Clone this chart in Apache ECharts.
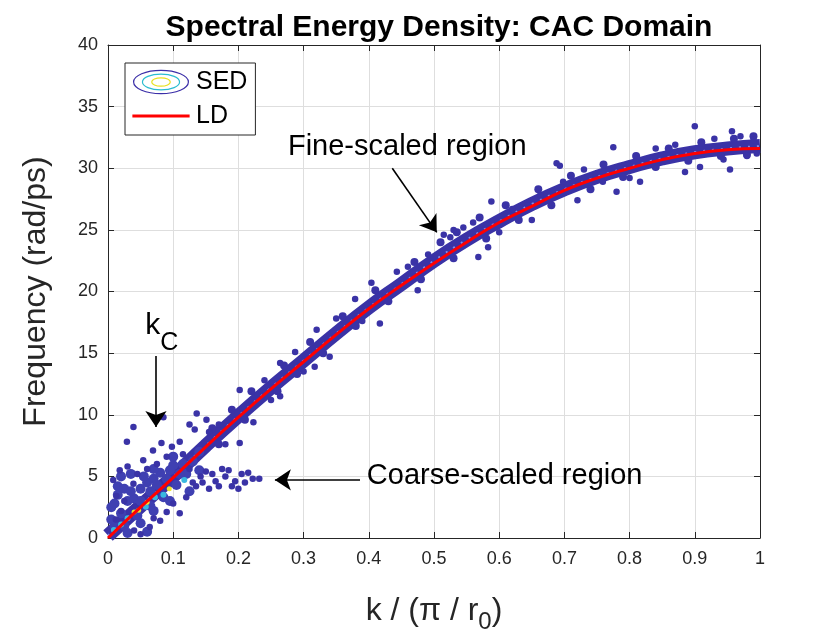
<!DOCTYPE html>
<html>
<head>
<meta charset="utf-8">
<script src="https://cdn.jsdelivr.net/npm/echarts@6/dist/echarts.min.js"></script>
<style>
html,body{margin:0;padding:0;background:#fff;}
#c{width:840px;height:630px;}
</style>
</head>
<body>
<div id="c"></div>
<script>
// ---- data ----
const xTicks = [0,0.1,0.2,0.3,0.4,0.5,0.6,0.7,0.8,0.9,1];
const yTicks = [0,5,10,15,20,25,30,35,40];

// LD (lattice dynamics) dispersion curve
const ldK = [0,0.05,0.1,0.15,0.2,0.25,0.3,0.35,0.4,0.45,0.5,0.55,0.6,0.65,0.7,0.75,0.8,0.85,0.9,0.95,1.0];
const ldW = [0,2.5,4.9,7.4,9.8,12.1,14.3,16.5,18.6,20.5,22.3,24.0,25.6,26.9,28.2,29.2,30.0,30.7,31.2,31.5,31.6];

// SED main band (centre line of the dense contour band)
const bandK = [0,0.05,0.1,0.15,0.2,0.25,0.3,0.35,0.4,0.45,0.5,0.55,0.6,0.65,0.7,0.75,0.8,0.85,0.9,0.95,1.0];
const bandW = [0.2,2.6,5.0,7.5,9.9,12.2,14.4,16.6,18.7,20.6,22.5,24.2,25.7,27.1,28.3,29.3,30.1,30.8,31.3,31.6,31.8];

// SED blobs along the ragged edges of the band
const sedEdge = [
  [0.16,8.9],[0.19,10.4],[0.22,11.9],[0.27,14.0],[0.31,15.9],[0.36,18.0],[0.41,20.1],[0.47,22.4],
  [0.51,24.0],[0.535,24.8],[0.57,26.0],[0.61,27.0],[0.66,28.3],[0.71,29.4],[0.76,30.3],[0.81,31.0],
  [0.86,31.6],[0.91,32.1],[0.96,32.4],[0.99,32.6],
  [0.17,7.6],[0.21,9.6],[0.26,11.9],[0.29,13.3],[0.33,15.0],[0.38,17.2],[0.43,19.2],[0.48,21.0],
  [0.53,22.7],[0.58,24.3],[0.63,25.8],[0.68,27.0],[0.74,28.3],[0.79,29.3],[0.84,30.1],[0.89,30.6],
  [0.94,31.0],[0.98,31.1]
];

// SED contour blobs off the band
const sedBlobs = [
  [0.008,4.7],[0.013,3.4],[0.018,5.5],[0.029,7.8],[0.039,9.0],[0.054,6.3],[0.069,7.1],[0.082,7.7],
  [0.098,7.4],[0.110,7.8],[0.133,8.8],[0.136,10.1],[0.151,9.6],[0.039,4.4],[0.025,3.0],[0.030,5.8],
  [0.045,5.2],[0.060,5.6],[0.075,6.0],[0.090,6.6],[0.115,6.8],[0.020,2.2],[0.012,1.5],[0.085,9.8],
  [0.125,9.2],
  [0.125,5.6],[0.135,4.2],[0.142,5.0],[0.150,5.4],[0.155,4.0],[0.165,4.6],[0.175,5.6],[0.180,5.0],
  [0.190,4.2],[0.195,4.6],[0.205,5.2],[0.210,4.5],[0.222,4.8],[0.232,4.8],[0.160,5.2],[0.200,4.0],
  [0.170,4.2],[0.185,5.5],[0.215,5.3],[0.145,4.5],
  [0.040,0.6],[0.064,0.9],[0.070,1.6],[0.090,2.1],[0.110,2.0],[0.120,3.3],[0.100,2.8],[0.080,1.4],
  [0.130,4.5],[0.050,0.3],
  [0.202,12.0],[0.264,14.2],[0.287,15.1],[0.320,16.9],[0.340,14.7],[0.317,13.9],[0.379,19.4],
  [0.404,20.7],[0.417,17.4],[0.443,21.6],[0.475,20.1],[0.491,23.0],[0.223,9.4],[0.202,7.7],
  [0.264,11.5],[0.170,9.2],[0.240,12.8],[0.350,17.8],[0.460,22.0],[0.250,11.2],[0.300,13.5],
  [0.180,7.6],[0.155,8.6],[0.390,17.6],
  [0.525,24.4],[0.530,25.0],[0.515,24.6],[0.545,25.2],[0.568,22.8],[0.583,23.6],[0.588,27.3],
  [0.644,27.0],[0.663,27.8],[0.688,30.4],[0.693,30.2],[0.698,28.9],[0.759,28.9],[0.775,31.7],
  [0.780,28.1],[0.816,28.9],[0.885,29.7],[0.900,33.4],[0.908,30.1],[0.944,30.7],[0.954,29.9],
  [0.957,33.0],[0.990,32.3],[0.620,26.7],[0.600,24.8],[0.730,29.9],[0.840,31.6],[0.870,31.9],
  [0.930,32.4],[0.970,32.6],[0.560,25.6],[0.650,25.8],[0.720,27.4],[0.800,29.2],[0.995,31.2],
  [0.980,31.0]
];
// dense low-k region (filled blobs)
const sedCore = [
  [0.010,1.0],[0.020,2.0],[0.030,3.0],[0.015,3.5],[0.040,3.2],[0.050,4.0],[0.060,4.5],[0.070,4.8],
  [0.080,5.3],[0.100,5.9],[0.005,2.5],[0.025,1.0],[0.045,1.8],[0.065,2.6],[0.085,3.3],[0.105,4.3],
  [0.120,5.2],[0.005,1.5],[0.010,2.8],[0.015,4.2],[0.020,5.0],[0.025,4.0],[0.035,3.8],[0.035,5.2],
  [0.050,3.0],[0.055,5.0],[0.065,3.8],[0.070,5.6],[0.075,4.3],[0.090,4.8],[0.095,5.5],[0.110,5.2],
  [0.115,6.0],[0.130,6.2],[0.140,7.0],[0.100,6.6],[0.125,3.8],[0.140,5.5],[0.050,1.2],[0.070,2.2],
  [0.095,3.0],[0.060,0.5],[0.030,0.4]
];
const sedCyan = [[0.009,0.65],[0.058,2.54],[0.030,1.6],[0.072,3.3],[0.117,4.7],[0.085,3.5],[0.020,1.1]];
const sedYellow = [[0.094,4.0],[0.040,2.1],[0.047,2.25],[0.060,2.9]];

// annotations: [k, omega, text]
const notes = [
  [0.276,31.7,'Fine-scaled region'],
  [0.397,5.03,'Coarse-scaled region']
];
// arrows: [[k0,w0],[k1,w1]]
const arrows = [
  [[0.436,30.0],[0.5043,24.8]],
  [[0.3865,4.71],[0.256,4.71]],
  [[0.0736,14.77],[0.0736,9.0]]
];

const blue = '#3a33a6';
const svgIcon = s => 'image://data:image/svg+xml;charset=utf-8,' + encodeURIComponent(s);
const sedIcon = svgIcon(
 '<svg xmlns="http://www.w3.org/2000/svg" width="62" height="28" viewBox="0 0 62 28">' +
 '<ellipse cx="31" cy="14" rx="29.5" ry="12.5" fill="none" stroke="#3b2fa8" stroke-width="1.3"/>' +
 '<ellipse cx="31" cy="14" rx="20" ry="8.5" fill="none" stroke="#2bbcd0" stroke-width="1.3"/>' +
 '<ellipse cx="31" cy="14" rx="10" ry="4.5" fill="none" stroke="#e8e01e" stroke-width="1.3"/>' +
 '</svg>');
const ldIcon = svgIcon(
 '<svg xmlns="http://www.w3.org/2000/svg" width="62" height="28" viewBox="0 0 62 28">' +
 '<line x1="0" y1="14" x2="62" y2="14" stroke="#ff0000" stroke-width="3.2"/>' +
 '</svg>');

const chart = echarts.init(document.getElementById('c'), null, {renderer:'canvas'});
const FF = 'Liberation Sans, Arial, sans-serif';
const axisFont = {fontFamily:FF, fontSize:18, color:'#262626'};

chart.setOption({
  animation:false,
  backgroundColor:'#fff',
  title:{
    text:'Spectral Energy Density: CAC Domain',
    left:434, top:8, textAlign:'center',
    textStyle:{fontFamily:FF, fontSize:30, fontWeight:'bold', color:'#000'}
  },
  legend:{
    orient:'vertical', left:125, top:63, padding:[6,8,6,6], itemGap:8,
    itemWidth:60, itemHeight:26, backgroundColor:'#fff', borderColor:'#262626', borderWidth:1,
    textStyle:{fontFamily:FF, fontSize:25, color:'#000'},
    data:[{name:'SED', icon:sedIcon},{name:'LD', icon:ldIcon}]
  },
  grid:{left:108, right:80, top:45, bottom:92, show:false, outerBoundsMode:'none', containLabel:false},
  xAxis:[{
    type:'value', min:0, max:1, interval:0.1, position:'bottom',
    name:'k / (π / r{sub|0})', nameLocation:'middle', nameGap:50,
    nameTextStyle:{fontFamily:FF, fontSize:32, color:'#262626',
      rich:{sub:{fontFamily:FF, fontSize:24, color:'#262626', padding:[22,0,0,0]}}},
    axisLine:{show:true, lineStyle:{color:'#262626', width:1}},
    axisTick:{show:true, inside:true, length:6, lineStyle:{color:'#262626'}},
    axisLabel:{...axisFont, margin:12, formatter:v=>String(+v.toFixed(1))},
    splitLine:{show:true, lineStyle:{color:'#dedede', width:1}}
  },{
    type:'value', min:0, max:1, interval:0.1, position:'top',
    axisLine:{show:true, onZero:false, lineStyle:{color:'#262626', width:1}},
    axisTick:{show:true, inside:true, length:6, lineStyle:{color:'#262626'}},
    axisLabel:{show:false}, splitLine:{show:false}
  }],
  yAxis:[{
    type:'value', min:0, max:40, interval:5, position:'left',
    name:'Frequency (rad/ps)', nameLocation:'middle', nameGap:56,
    nameTextStyle:{fontFamily:FF, fontSize:32, color:'#262626'},
    axisLine:{show:true, lineStyle:{color:'#262626', width:1}},
    axisTick:{show:true, inside:true, length:6, lineStyle:{color:'#262626'}},
    axisLabel:{...axisFont, margin:10},
    splitLine:{show:true, lineStyle:{color:'#dedede', width:1}}
  },{
    type:'value', min:0, max:40, interval:5, position:'right',
    axisLine:{show:true, onZero:false, lineStyle:{color:'#262626', width:1}},
    axisTick:{show:true, inside:true, length:6, lineStyle:{color:'#262626'}},
    axisLabel:{show:false}, splitLine:{show:false}
  }],
  series:[
    {
      name:'SED', type:'line', smooth:true, symbol:'none', silent:true,
      data:bandK.map((k,i)=>[k,bandW[i]]),
      itemStyle:{color:blue},
      lineStyle:{color:blue, width:14, opacity:1}, z:2
    },
    {
      name:'SED', type:'line', smooth:true, symbol:'none', silent:true,
      data:bandK.map((k,i)=>[k,bandW[i]]),
      itemStyle:{color:blue},
      lineStyle:{color:'#8a96ea', width:2, type:[2,7], opacity:0.9}, z:3
    },
    {
      name:'SED', type:'scatter', symbol:'circle', symbolSize:8, silent:true,
      data:sedEdge, itemStyle:{color:blue, opacity:1}, z:3
    },
    {
      name:'SED', type:'scatter', symbol:'circle', symbolSize:10, silent:true,
      data:sedCore, itemStyle:{color:'#3f40b2', opacity:1}, z:3
    },
    {
      name:'SED', type:'scatter', symbol:'circle', symbolSize:6.5, silent:true,
      data:sedBlobs, itemStyle:{color:blue, opacity:1}, z:3
    },
    {
      name:'SED', type:'scatter', symbol:'circle', symbolSize:6, silent:true,
      data:sedCyan, itemStyle:{color:'#39b8e0', opacity:1}, z:4
    },
    {
      name:'SED', type:'scatter', symbol:'circle', symbolSize:5, silent:true,
      data:sedYellow, itemStyle:{color:'#f0e62a', opacity:1}, z:4
    },
    {
      name:'LD', type:'line', smooth:true, symbol:'none', silent:true,
      data:ldK.map((k,i)=>[k,ldW[i]]),
      itemStyle:{color:'#ff0000'},
      lineStyle:{color:'#ff0000', width:3}, z:5
    },
    {
      name:'notes', type:'scatter', symbolSize:0, silent:true,
      data:notes, itemStyle:{opacity:1},
      label:{show:true, position:'right', distance:0, formatter:p=>p.data[2],
        fontFamily:FF, fontSize:29, color:'#000', opacity:1}, z:6
    },
    {
      name:'kc', type:'scatter', symbolSize:0, silent:true,
      data:[[0.057,17.2,'k']], itemStyle:{opacity:1},
      label:{show:true, position:'right', distance:0, formatter:p=>p.data[2],
        fontFamily:FF, fontSize:30, color:'#000', opacity:1}, z:6
    },
    {
      name:'kcsub', type:'scatter', symbolSize:0, silent:true,
      data:[[0.08,15.8,'C']], itemStyle:{opacity:1},
      label:{show:true, position:'right', distance:0, formatter:p=>p.data[2],
        fontFamily:FF, fontSize:25, color:'#000', opacity:1}, z:6
    },
    {
      name:'arrows', type:'lines', coordinateSystem:'cartesian2d', silent:true,
      symbol:['none','arrow'], symbolSize:16,
      data:arrows.map(a=>({coords:a})),
      lineStyle:{color:'#000', width:1.6, opacity:1}, z:6
    }
  ]
});
</script>
</body>
</html>
